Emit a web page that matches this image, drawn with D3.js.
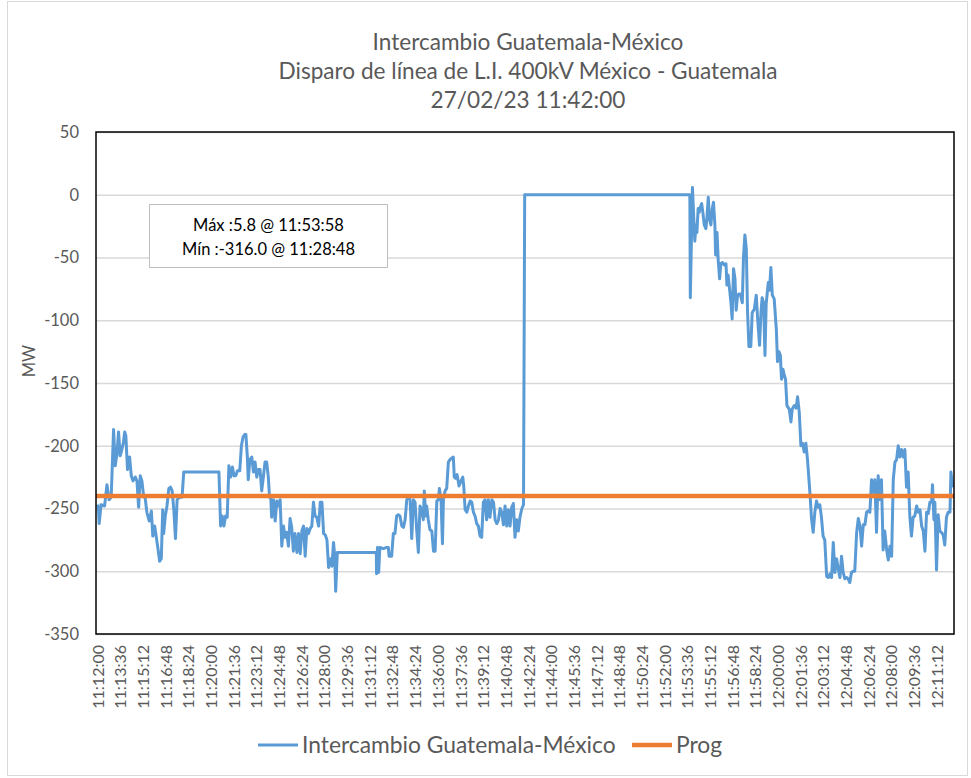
<!DOCTYPE html>
<html>
<head>
<meta charset="utf-8">
<script src="https://cdn.jsdelivr.net/npm/d3@7"></script>
<style>
  body { margin: 0; background: #fff; }
  svg { display: block; font-family: Lato, "Open Sans", sans-serif; }
</style>
</head>
<body>
<div class="container"></div>
<script>
"use strict";

// Titles, legend names and the max/min note
var titulo = ["Intercambio Guatemala-México", "Disparo de línea de L.I. 400kV México - Guatemala", "27/02/23 11:42:00"];
var serieNombres = ["Intercambio Guatemala-México", "Prog"];
var nota = ["Máx :5.8 @ 11:53:58", "Mín :-316.0 @ 11:28:48"];

// Y axis values
var yTicks = [50, 0, -50, -100, -150, -200, -250, -300, -350];

// X axis labels (every 96 s)
var xTicks = ["11:12:00", "11:13:36", "11:15:12", "11:16:48", "11:18:24", "11:20:00", "11:21:36", "11:23:12",
  "11:24:48", "11:26:24", "11:28:00", "11:29:36", "11:31:12", "11:32:48", "11:34:24", "11:36:00", "11:37:36",
  "11:39:12", "11:40:48", "11:42:24", "11:44:00", "11:45:36", "11:47:12", "11:48:48", "11:50:24", "11:52:00",
  "11:53:36", "11:55:12", "11:56:48", "11:58:24", "12:00:00", "12:01:36", "12:03:12", "12:04:48", "12:06:24",
  "12:08:00", "12:09:36", "12:11:12"];

// Intercambio Guatemala-México (MW)
var tiempo = [
  "11:12:00", "11:12:04", "11:12:07", "11:12:15", "11:12:30", "11:12:40", "11:12:49", "11:12:58", "11:13:08", "11:13:15",
  "11:13:22", "11:13:29", "11:13:36", "11:13:43", "11:13:50", "11:13:55", "11:14:00", "11:14:07", "11:14:16", "11:14:23",
  "11:14:30", "11:14:40", "11:14:47", "11:14:54", "11:15:01", "11:15:08", "11:15:15", "11:15:22", "11:15:29", "11:15:39",
  "11:15:48", "11:15:54", "11:16:02", "11:16:09", "11:16:16", "11:16:23", "11:16:30", "11:16:36", "11:16:40", "11:16:47",
  "11:16:54", "11:17:02", "11:17:09", "11:17:16", "11:17:23", "11:17:30", "11:17:37", "11:17:47", "11:17:58", "11:18:05",
  "11:20:34", "11:20:41", "11:20:48", "11:20:55", "11:21:02", "11:21:09", "11:21:16", "11:21:23", "11:21:31", "11:21:38",
  "11:21:45", "11:21:52", "11:22:02", "11:22:09", "11:22:16", "11:22:23", "11:22:28", "11:22:34", "11:22:38", "11:22:45",
  "11:22:53", "11:23:00", "11:23:07", "11:23:14", "11:23:21", "11:23:28", "11:23:35", "11:23:42", "11:23:49", "11:23:56",
  "11:24:03", "11:24:08", "11:24:13", "11:24:17", "11:24:25", "11:24:32", "11:24:39", "11:24:46", "11:24:53", "11:25:00",
  "11:25:07", "11:25:14", "11:25:21", "11:25:28", "11:25:35", "11:25:42", "11:25:49", "11:25:56", "11:26:04", "11:26:11",
  "11:26:18", "11:26:25", "11:26:32", "11:26:39", "11:26:46", "11:26:53", "11:27:00", "11:27:07", "11:27:14", "11:27:21",
  "11:27:28", "11:27:36", "11:27:43", "11:27:50", "11:27:57", "11:28:04", "11:28:11", "11:28:18", "11:28:25", "11:28:32",
  "11:28:39", "11:28:44", "11:28:48", "11:28:55", "11:31:40", "11:31:41", "11:31:45", "11:31:50", "11:31:55", "11:32:10",
  "11:32:24", "11:32:31", "11:32:34", "11:32:45", "11:32:52", "11:32:59", "11:33:06", "11:33:13", "11:33:20", "11:33:28",
  "11:33:35", "11:33:42", "11:33:49", "11:33:56", "11:34:03", "11:34:10", "11:34:17", "11:34:24", "11:34:31", "11:34:38",
  "11:34:45", "11:34:52", "11:34:59", "11:35:03", "11:35:09", "11:35:13", "11:35:20", "11:35:27", "11:35:35", "11:35:42",
  "11:35:49", "11:35:56", "11:36:03", "11:36:07", "11:36:14", "11:36:20", "11:36:24", "11:36:31", "11:36:38", "11:36:45",
  "11:36:52", "11:36:59", "11:37:06", "11:37:10", "11:37:16", "11:37:22", "11:37:30", "11:37:39", "11:37:46", "11:37:50",
  "11:37:56", "11:38:03", "11:38:10", "11:38:17", "11:38:24", "11:38:31", "11:38:38", "11:38:45", "11:38:52", "11:38:59",
  "11:39:06", "11:39:13", "11:39:20", "11:39:27", "11:39:34", "11:39:41", "11:39:49", "11:39:56", "11:40:03", "11:40:10",
  "11:40:17", "11:40:24", "11:40:31", "11:40:38", "11:40:45", "11:40:52", "11:40:59", "11:41:06", "11:41:13", "11:41:20",
  "11:41:27", "11:41:34", "11:41:41", "11:41:48", "11:41:56", "11:42:03", "11:42:08", "11:53:47", "11:53:49", "11:53:58",
  "11:54:08", "11:54:13", "11:54:17", "11:54:22", "11:54:27", "11:54:31", "11:54:37", "11:54:42", "11:54:48", "11:54:55",
  "11:54:59", "11:55:05", "11:55:10", "11:55:16", "11:55:22", "11:55:27", "11:55:33", "11:55:36", "11:55:42", "11:55:47",
  "11:55:53", "11:55:58", "11:56:05", "11:56:13", "11:56:20", "11:56:24", "11:56:29", "11:56:35", "11:56:41", "11:56:46",
  "11:56:52", "11:56:58", "11:57:03", "11:57:09", "11:57:15", "11:57:20", "11:57:29", "11:57:34", "11:57:40", "11:57:46",
  "11:57:51", "11:57:57", "11:58:05", "11:58:11", "11:58:20", "11:58:28", "11:58:34", "11:58:42", "11:58:48", "11:58:53",
  "11:58:59", "11:59:05", "11:59:10", "11:59:19", "11:59:24", "11:59:30", "11:59:36", "11:59:44", "11:59:53", "11:59:58",
  "12:00:04", "12:00:10", "12:00:15", "12:00:21", "12:00:27", "12:00:32", "12:00:38", "12:00:48", "12:00:55", "12:01:00",
  "12:01:09", "12:01:17", "12:01:23", "12:01:30", "12:01:37", "12:01:44", "12:01:51", "12:01:58", "12:02:05", "12:02:15",
  "12:02:22", "12:02:29", "12:02:36", "12:02:43", "12:02:50", "12:02:57", "12:03:04", "12:03:11", "12:03:18", "12:03:26",
  "12:03:33", "12:03:40", "12:03:47", "12:03:54", "12:04:01", "12:04:08", "12:04:15", "12:04:22", "12:04:29", "12:04:36",
  "12:04:43", "12:04:50", "12:04:57", "12:05:04", "12:05:11", "12:05:18", "12:05:25", "12:05:33", "12:05:40", "12:05:47",
  "12:05:54", "12:06:01", "12:06:08", "12:06:15", "12:06:22", "12:06:29", "12:06:36", "12:06:43", "12:06:50", "12:06:57",
  "12:07:04", "12:07:11", "12:07:18", "12:07:25", "12:07:32", "12:07:40", "12:07:47", "12:07:54", "12:08:01", "12:08:08",
  "12:08:15", "12:08:22", "12:08:29", "12:08:36", "12:08:43", "12:08:50", "12:08:57", "12:09:04", "12:09:11", "12:09:18",
  "12:09:25", "12:09:32", "12:09:39", "12:09:47", "12:09:54", "12:10:01", "12:10:08", "12:10:15", "12:10:22", "12:10:29",
  "12:10:36", "12:10:43", "12:10:50", "12:10:54", "12:11:00", "12:11:04", "12:11:11", "12:11:18", "12:11:25", "12:11:32",
  "12:11:39", "12:11:46", "12:11:53", "12:12:00", "12:12:08", "12:12:12", "12:12:19", "12:12:25"
];
var intercambio = [
  -247, -250, -262, -247, -248, -231, -243, -241, -187, -216,
  -207, -189, -208, -203, -197, -189, -192, -219, -209, -224,
  -228, -225, -228, -249, -224, -228, -240, -242, -253, -260,
  -252, -272, -264, -273, -282, -292, -290, -251, -270, -256,
  -248, -234, -233, -236, -251, -274, -243, -241, -241, -221,
  -221, -264, -256, -264, -256, -257, -216, -225, -217, -224,
  -224, -220, -220, -200, -193, -191, -191, -208, -227, -211,
  -209, -221, -213, -225, -219, -219, -236, -225, -213, -213,
  -225, -241, -240, -257, -243, -260, -244, -248, -243, -280,
  -264, -273, -269, -280, -258, -265, -284, -270, -285, -270,
  -286, -268, -264, -288, -266, -270, -266, -264, -245, -256,
  -257, -264, -245, -245, -270, -271, -275, -297, -290, -296,
  -277, -288, -316, -285, -285, -302, -281, -301, -281, -282,
  -281, -281, -288, -288, -270, -270, -256, -255, -256, -264,
  -265, -259, -243, -241, -243, -274, -243, -245, -267, -285,
  -248, -251, -259, -236, -256, -248, -259, -267, -268, -284,
  -284, -244, -243, -234, -243, -278, -243, -236, -234, -213,
  -211, -210, -209, -225, -226, -223, -232, -228, -225, -232,
  -251, -253, -248, -244, -245, -253, -256, -262, -264, -272,
  -273, -245, -243, -259, -243, -257, -243, -245, -259, -262,
  -259, -250, -253, -263, -248, -264, -251, -264, -249, -246,
  -273, -259, -268, -257, -250, -247, 0, 0, -82, 5.8,
  -37, -24, -30, -11, -14, -10, -7, -14, -24, -27,
  -19, -2, -19, -24, -11, -6, -24, -48, -30, -52,
  -67, -55, -54, -56, -55, -72, -64, -75, -86, -99,
  -59, -67, -92, -80, -79, -79, -86, -50, -32, -43,
  -92, -121, -121, -94, -91, -80, -99, -120, -94, -82,
  -86, -128, -87, -70, -76, -58, -80, -83, -107, -133,
  -125, -128, -147, -139, -144, -147, -168, -171, -181, -171,
  -168, -170, -161, -173, -200, -198, -205, -198, -211, -237,
  -258, -269, -253, -244, -249, -247, -257, -272, -275, -304,
  -305, -302, -305, -277, -301, -290, -298, -305, -288, -301,
  -306, -305, -306, -309, -301, -300, -300, -269, -258, -264,
  -280, -263, -263, -253, -252, -253, -227, -237, -227, -269,
  -224, -243, -227, -283, -268, -283, -291, -280, -288, -227,
  -213, -211, -200, -209, -203, -209, -203, -233, -221, -256,
  -272, -257, -256, -248, -253, -251, -264, -268, -284, -253,
  -254, -245, -245, -231, -259, -245, -299, -255, -268, -269,
  -271, -279, -257, -253, -253, -221, -232, -232
];

// Prog (MW)
var progTiempo = ["11:12:00", "12:12:25"];
var prog = [-240, -240];

var width = 971;
var height = 778;
var plot = {left: 96, right: 954, top: 132, bottom: 634};
var colorIntercambio = "#5b9bd5";
var colorProg = "#ed7d31";
var textColor = "#595959";

var parseTime = d3.timeParse("%H:%M:%S");

var x = d3.scaleTime()
    .domain([parseTime(tiempo[0]), parseTime(tiempo[tiempo.length - 1])])
    .range([97.5, plot.right]);

var y = d3.scaleLinear()
    .domain([-350, 50])
    .range([plot.bottom, plot.top]);

var svg = d3.select(".container").append("svg")
    .attr("width", width)
    .attr("height", height);

// chart area border
svg.append("rect")
    .attr("x", 7.5).attr("y", 1.5)
    .attr("width", 960).attr("height", 774)
    .attr("fill", "#fff")
    .attr("stroke", "#d9d9d9")
    .attr("stroke-width", 1);

// Title
svg.append("g").selectAll("text")
    .data(titulo)
    .enter().append("text")
    .attr("x", (plot.left + plot.right) / 2 + 3)
    .attr("y", function(d, i) { return 50 + i * 29; })
    .attr("text-anchor", "middle")
    .attr("fill", textColor)
    .style("font-size", "22.6px")
    .text(function(d) { return d; });

// Gridlines
svg.append("g")
    .attr("class", "grid")
    .attr("transform", "translate(" + plot.left + ",0)")
    .call(d3.axisLeft(y).tickValues(yTicks).tickSize(-(plot.right - plot.left)).tickFormat(""))
    .call(function(g) {
        g.select(".domain").remove();
        g.selectAll("line").attr("stroke", "#d9d9d9").attr("stroke-width", 1.3);
    });

// Y axis labels (plain hyphen, like the original)
svg.append("g")
    .attr("transform", "translate(" + plot.left + ",0)")
    .call(d3.axisLeft(y).tickValues(yTicks).tickSize(0).tickPadding(17)
        .tickFormat(function(d) { return String(d); }))
    .call(function(g) {
        g.select(".domain").remove();
        g.selectAll("text")
            .attr("fill", textColor)
            .style("font-size", "16.5px")
            .style("font-family", "Lato, sans-serif");
    });

// X axis labels
svg.append("g")
    .attr("transform", "translate(0," + plot.bottom + ")")
    .call(d3.axisBottom(x).tickValues(xTicks.map(parseTime)).tickSize(0).tickFormat(d3.timeFormat("%H:%M:%S")))
    .call(function(g) {
        g.select(".domain").remove();
        g.selectAll("text")
            .attr("fill", textColor)
            .style("font-size", "16px")
            .style("font-family", "Lato, sans-serif")
            .attr("text-anchor", "end")
            .attr("transform", "rotate(-90)")
            .attr("x", -11)
            .attr("y", 0)
            .attr("dy", "0.35em");
    });

// Y axis title
svg.append("text")
    .attr("transform", "translate(35,361) rotate(-90)")
    .attr("text-anchor", "middle")
    .attr("fill", textColor)
    .style("font-size", "16.5px")
    .text("MW");

// Lines
var line = d3.line()
    .x(function(d) { return x(d.t); })
    .y(function(d) { return y(d.v); });

var datosIntercambio = tiempo.map(function(t, i) { return {t: parseTime(t), v: intercambio[i]}; });
var datosProg = progTiempo.map(function(t, i) { return {t: parseTime(t), v: prog[i]}; });
datosProg[0].t = x.invert(plot.left);

svg.append("path")
    .datum(datosIntercambio)
    .attr("fill", "none")
    .attr("stroke", colorIntercambio)
    .attr("stroke-width", 3)
    .attr("stroke-linejoin", "round")
    .attr("d", line);

svg.append("path")
    .datum(datosProg)
    .attr("fill", "none")
    .attr("stroke", colorProg)
    .attr("stroke-width", 4.5)
    .attr("d", line);

// Plot frame
svg.append("rect")
    .attr("x", plot.left).attr("y", plot.top)
    .attr("width", plot.right - plot.left)
    .attr("height", plot.bottom - plot.top)
    .attr("fill", "none")
    .attr("stroke", "#000")
    .attr("stroke-width", 1.5);

// Max / min note
var notaG = svg.append("g");
notaG.append("rect")
    .attr("x", 149.5).attr("y", 204.5)
    .attr("width", 238).attr("height", 63)
    .attr("fill", "#fff")
    .attr("stroke", "#bfbfbf")
    .attr("stroke-width", 1);
notaG.selectAll("text")
    .data(nota)
    .enter().append("text")
    .attr("x", 268.5)
    .attr("y", function(d, i) { return 231 + i * 24; })
    .attr("text-anchor", "middle")
    .attr("fill", "#000")
    .style("font-size", "16.5px")
    .text(function(d) { return d; });

// Legend
var legend = svg.append("g").attr("transform", "translate(0,745)");
var legendItems = [
    {name: serieNombres[0], color: colorIntercambio, w: 3, x: 258},
    {name: serieNombres[1], color: colorProg, w: 4.5, x: 632}
];
legendItems.forEach(function(d) {
    legend.append("line")
        .attr("x1", d.x).attr("x2", d.x + 40)
        .attr("y1", 0).attr("y2", 0)
        .attr("stroke", d.color)
        .attr("stroke-width", d.w);
    legend.append("text")
        .attr("x", d.x + 44)
        .attr("y", 0)
        .attr("dy", "0.35em")
        .attr("fill", textColor)
        .style("font-size", "22.8px")
        .text(d.name);
});
</script>
</body>
</html>
